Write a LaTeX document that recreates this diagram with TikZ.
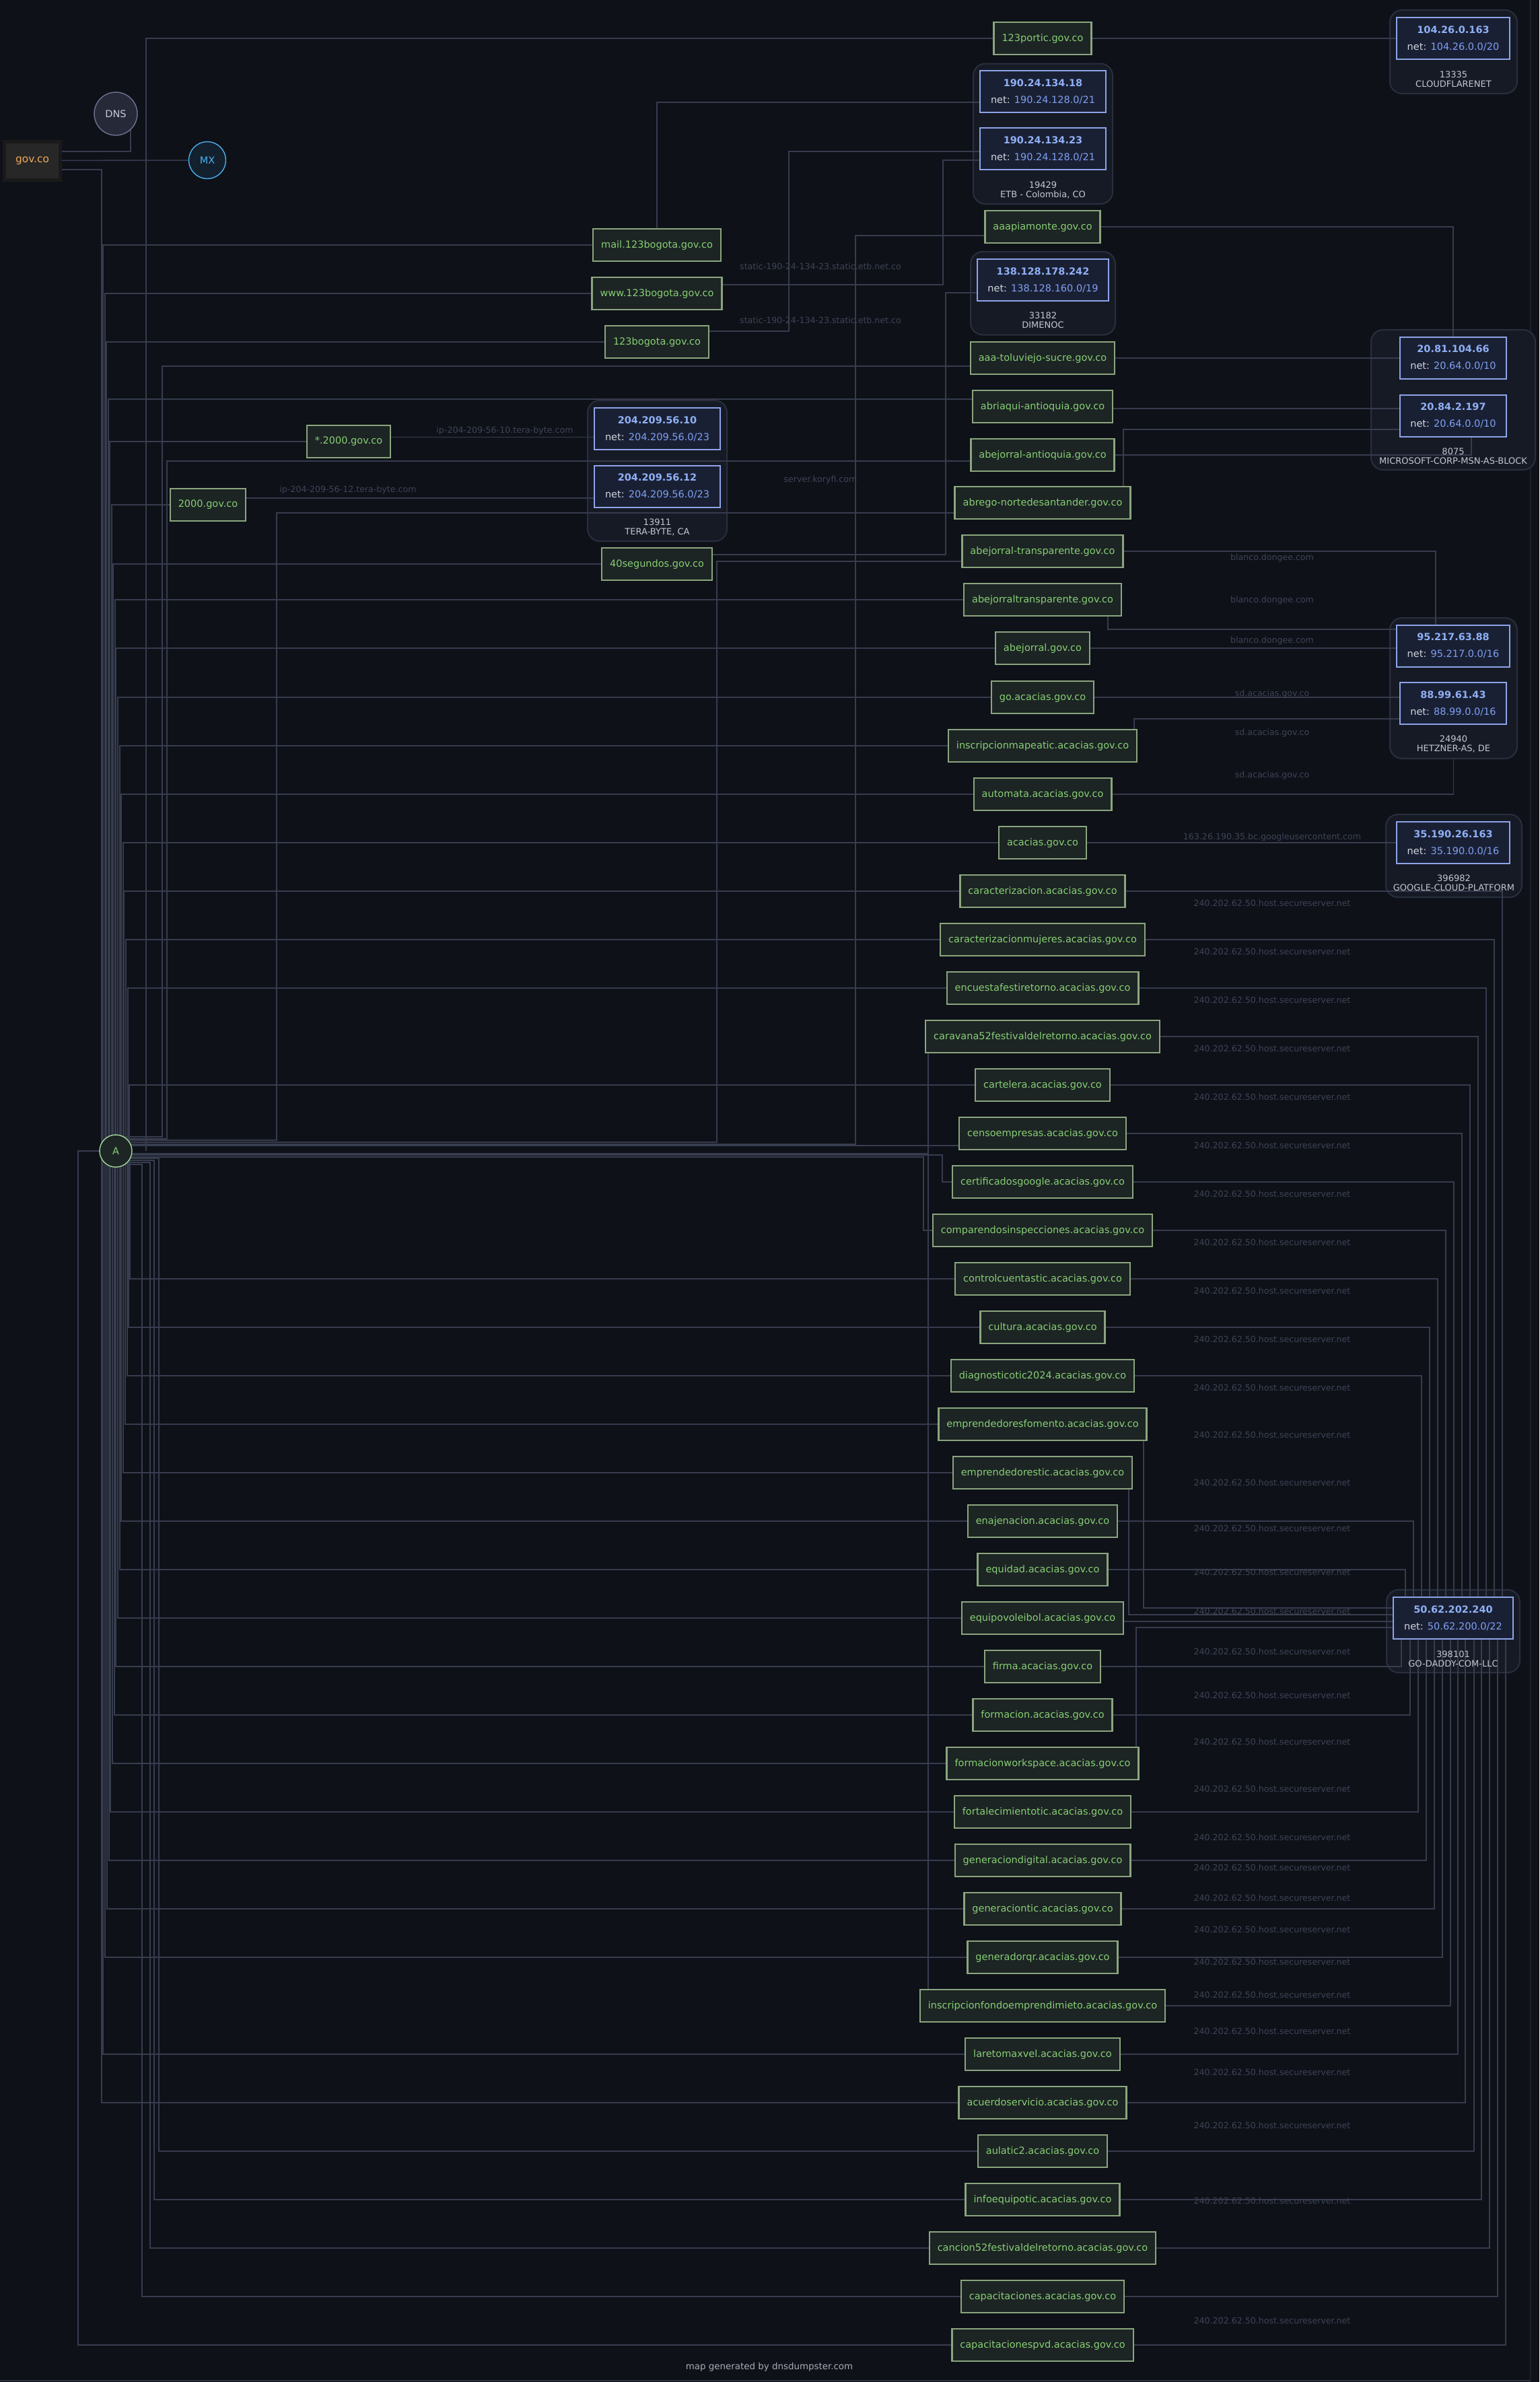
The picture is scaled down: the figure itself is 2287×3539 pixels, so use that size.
\documentclass[tikz,border=0pt]{standalone}
\usepackage{fontspec}
\setmainfont{DejaVu Sans}
\usetikzlibrary{calc}
\pgfdeclarelayer{back}
\pgfdeclarelayer{edges}
\pgfsetlayers{back,edges,main}
\definecolor{bgc}{HTML}{0E1118}
\definecolor{edgec}{HTML}{373C4E}
\definecolor{elcol}{HTML}{3E4456}
\definecolor{framec}{HTML}{2C3140}
\definecolor{framed}{HTML}{1C202B}
\definecolor{subfill}{HTML}{1D2424}
\definecolor{subdraw}{HTML}{8BA57E}
\definecolor{subtext}{HTML}{86CF74}
\definecolor{ipfill}{HTML}{1A2034}
\definecolor{ipdraw}{HTML}{8EA4E8}
\definecolor{ipblue}{HTML}{8FB0F5}
\definecolor{netgray}{HTML}{D0D4DC}
\definecolor{netblue}{HTML}{7F9FF0}
\definecolor{clfill}{HTML}{151A25}
\definecolor{cldraw}{HTML}{2A2F3E}
\definecolor{cltext}{HTML}{C4C8D0}
\definecolor{govf}{HTML}{272727}
\definecolor{govd}{HTML}{1A1A1A}
\definecolor{govt}{HTML}{F0A858}
\definecolor{dnsf}{HTML}{262938}
\definecolor{dnsd}{HTML}{6F7391}
\definecolor{dnst}{HTML}{C6CAD6}
\definecolor{mxf}{HTML}{13202E}
\definecolor{mxd}{HTML}{4AB0EC}
\definecolor{af}{HTML}{1D2525}
\definecolor{ad}{HTML}{A4D896}
\definecolor{capc}{HTML}{A8ACB8}
\newcommand\myfs{\fontsize{7.25}{8.7}\selectfont}
\newcommand\ipt[2]{{\bfseries\color{ipblue}#1}\\[3.6pt]net: {\color{netblue}#2}}
\begin{document}
\begin{tikzpicture}[x=0.5pt,y=-0.5pt,
  conn/.style={draw=edgec, line width=0.8pt},
  subd/.style={draw=subdraw, fill=subfill, line width=1.2pt, text=subtext, font=\myfs, minimum height=24pt, inner xsep=6pt, inner ysep=0pt},
  ipbox/.style={draw=ipdraw, fill=ipfill, line width=1pt, font=\myfs, align=center, minimum height=31pt, text=netgray, inner sep=0pt},
  clust/.style={draw=cldraw, fill=clfill, line width=1pt, rounded corners=9pt, inner sep=0pt},
  cllab/.style={text=cltext, font=\fontsize{6.5}{7}\selectfont, align=center, inner sep=0pt},
  elab/.style={text=elcol, font=\fontsize{6.3}{7}\selectfont, inner sep=0pt}]
\useasboundingbox (0,0) rectangle (2287,3539);
\begin{pgfonlayer}{back}
\fill[bgc] (0,0) rectangle (2287,3539);
\draw[framec, line width=0.8pt] (0,3537) -- (2274,3537);
\draw[framed, line width=0.6pt] (2274,3537) -- (2274,0);
\node[clust, minimum width=94.5pt, minimum height=62pt] (cf) at (2159.5,77) {};
\node[clust, minimum width=103.5pt, minimum height=104.25pt] (etb) at (1549.5,198.75) {};
\node[clust, minimum width=107.5pt, minimum height=61.75pt] (dim) at (1549.5,435.75) {};
\node[clust, minimum width=122pt, minimum height=104pt] (ms) at (2159,594) {};
\node[clust, minimum width=103.5pt, minimum height=104.5pt] (tera) at (976.5,699.5) {};
\node[clust, minimum width=94.5pt, minimum height=104.5pt] (hetz) at (2159.5,1022.5) {};
\node[clust, minimum width=101pt, minimum height=61.5pt] (goog) at (2160,1271.5) {};
\node[clust, minimum width=99pt, minimum height=61.5pt] (gd) at (2159,2423.5) {};
\end{pgfonlayer}
% cluster labels
\node[cllab] (cfl) at (2159.5,117.5) {13335\\CLOUDFLARENET};
\node[cllab] (etbl) at (1549.5,282) {19429\\ETB - Colombia, CO};
\node[cllab] (diml) at (1549.5,476) {33182\\DIMENOC};
\node[cllab] (msl) at (2159,677.5) {8075\\MICROSOFT-CORP-MSN-AS-BLOCK};
\node[cllab] (teral) at (976.5,783) {13911\\TERA-BYTE, CA};
\node[cllab] (hetzl) at (2159.5,1105.5) {24940\\HETZNER-AS, DE};
\node[cllab] (googl) at (2160,1311.5) {396982\\GOOGLE-CLOUD-PLATFORM};
\node[cllab] (gdl) at (2159,2464.5) {398101\\GO-DADDY-COM-LLC};
% root nodes
\node[draw=govd, fill=govf, line width=2.5pt, minimum width=41.5pt, minimum height=28.5pt, text=govt, font=\fontsize{7.7}{9}\selectfont] (gov) at (48,238.5) {gov.co};
\node[circle, draw=dnsd, fill=dnsf, line width=0.7pt, minimum size=32pt, inner sep=0pt, text=dnst, font=\myfs] (dns) at (172,169) {DNS};
\node[circle, draw=mxd, fill=mxf, line width=0.7pt, minimum size=27.5pt, inner sep=0pt, text=mxd, font=\myfs] (mx) at (308,238) {MX};
\node[circle, draw=ad, fill=af, line width=0.7pt, minimum size=24pt, inner sep=0pt, text=subtext, font=\myfs] (A) at (172,1710) {A};
% IP boxes
\node[ipbox, minimum width=84pt] (ip104) at (2159,57) {\ipt{104.26.0.163}{104.26.0.0/20}};
\node[ipbox, minimum width=93.5pt] (ip18) at (1549.5,136) {\ipt{190.24.134.18}{190.24.128.0/21}};
\node[ipbox, minimum width=93.5pt] (ip23) at (1549.5,221) {\ipt{190.24.134.23}{190.24.128.0/21}};
\node[ipbox, minimum width=97.5pt] (ip138) at (1549.5,416) {\ipt{138.128.178.242}{138.128.160.0/19}};
\node[ipbox, minimum width=79pt] (ip66) at (2159,531.5) {\ipt{20.81.104.66}{20.64.0.0/10}};
\node[ipbox, minimum width=79pt] (ip197) at (2159,617.5) {\ipt{20.84.2.197}{20.64.0.0/10}};
\node[ipbox, minimum width=93.5pt] (ip10) at (976.5,637) {\ipt{204.209.56.10}{204.209.56.0/23}};
\node[ipbox, minimum width=93.5pt] (ip12) at (976.5,722.5) {\ipt{204.209.56.12}{204.209.56.0/23}};
\node[ipbox, minimum width=84pt] (ip88) at (2159,959.5) {\ipt{95.217.63.88}{95.217.0.0/16}};
\node[ipbox, minimum width=79pt] (ip43) at (2159,1045) {\ipt{88.99.61.43}{88.99.0.0/16}};
\node[ipbox, minimum width=84pt] (ip35) at (2159,1252) {\ipt{35.190.26.163}{35.190.0.0/16}};
\node[ipbox, minimum width=89pt] (ip240) at (2159,2404) {\ipt{50.62.202.240}{50.62.200.0/22}};
% subdomain nodes
\node[subd] (p123portic) at (1549,57) {123portic.gov.co};
\node[subd] (aaapi) at (1549,337) {aaapiamonte.gov.co};
\node[subd] (mail) at (976,364) {mail.123bogota.gov.co};
\node[subd] (www) at (976,436) {www.123bogota.gov.co};
\node[subd] (bog) at (976,508) {123bogota.gov.co};
\node[subd] (star2000) at (518,656) {*.2000.gov.co};
\node[subd] (d2000) at (309,750) {2000.gov.co};
\node[subd] (seg40) at (976,838) {40segundos.gov.co};
\node[subd] (tolu) at (1549,532) {aaa-toluviejo-sucre.gov.co};
\node[subd] (abriaqui) at (1549,604) {abriaqui-antioquia.gov.co};
\node[subd] (abejant) at (1549,676) {abejorral-antioquia.gov.co};
\node[subd] (abrego) at (1549,747) {abrego-nortedesantander.gov.co};
\node[subd] (abejtr) at (1549,819) {abejorral-transparente.gov.co};
\node[subd] (abejtr2) at (1549,891) {abejorraltransparente.gov.co};
\node[subd] (abej) at (1549,963) {abejorral.gov.co};
\node[subd] (goac) at (1549,1036) {go.acacias.gov.co};
\node[subd] (insmap) at (1549,1108) {inscripcionmapeatic.acacias.gov.co};
\node[subd] (automata) at (1549,1180) {automata.acacias.gov.co};
\node[subd] (acacias) at (1549,1252) {acacias.gov.co};
\node[subd] (carac) at (1549,1324) {caracterizacion.acacias.gov.co};
\node[subd] (caracm) at (1549,1396) {caracterizacionmujeres.acacias.gov.co};
\node[subd] (encuesta) at (1549,1468) {encuestafestiretorno.acacias.gov.co};
\node[subd] (caravana) at (1549,1540) {caravana52festivaldelretorno.acacias.gov.co};
\node[subd] (cartelera) at (1549,1612) {cartelera.acacias.gov.co};
\node[subd] (censo) at (1549,1684) {censoempresas.acacias.gov.co};
\node[subd] (certif) at (1549,1756) {certificadosgoogle.acacias.gov.co};
\node[subd] (compar) at (1549,1828) {comparendosinspecciones.acacias.gov.co};
\node[subd] (control) at (1549,1900) {controlcuentastic.acacias.gov.co};
\node[subd] (cultura) at (1549,1972) {cultura.acacias.gov.co};
\node[subd] (diag) at (1549,2044) {diagnosticotic2024.acacias.gov.co};
\node[subd] (empfom) at (1549,2116) {emprendedoresfomento.acacias.gov.co};
\node[subd] (emptic) at (1549,2188) {emprendedorestic.acacias.gov.co};
\node[subd] (enaj) at (1549,2260) {enajenacion.acacias.gov.co};
\node[subd] (equidad) at (1549,2332) {equidad.acacias.gov.co};
\node[subd] (equipo) at (1549,2404) {equipovoleibol.acacias.gov.co};
\node[subd] (firma) at (1549,2476) {firma.acacias.gov.co};
\node[subd] (formacion) at (1549,2548) {formacion.acacias.gov.co};
\node[subd] (formws) at (1549,2620) {formacionworkspace.acacias.gov.co};
\node[subd] (fortal) at (1549,2692) {fortalecimientotic.acacias.gov.co};
\node[subd] (gendig) at (1549,2764) {generaciondigital.acacias.gov.co};
\node[subd] (gentic) at (1549,2836) {generaciontic.acacias.gov.co};
\node[subd] (genqr) at (1549,2908) {generadorqr.acacias.gov.co};
\node[subd] (insfondo) at (1549,2980) {inscripcionfondoemprendimieto.acacias.gov.co};
\node[subd] (laretoma) at (1549,3052) {laretomaxvel.acacias.gov.co};
\node[subd] (acuerdo) at (1549,3124) {acuerdoservicio.acacias.gov.co};
\node[subd] (aulatic) at (1549,3196) {aulatic2.acacias.gov.co};
\node[subd] (infoeq) at (1549,3268) {infoequipotic.acacias.gov.co};
\node[subd] (cancion) at (1549,3340) {cancion52festivaldelretorno.acacias.gov.co};
\node[subd] (capac) at (1549,3412) {capacitaciones.acacias.gov.co};
\node[subd] (capacpvd) at (1549,3484) {capacitacionespvd.acacias.gov.co};
% edge labels
\node[elab] (l1) at (1219,396) {static-190-24-134-23.static.etb.net.co};
\node[elab] (l2) at (1219,476) {static-190-24-134-23.static.etb.net.co};
\node[elab] (l3) at (750,640) {ip-204-209-56-10.tera-byte.com};
\node[elab] (l4) at (517,728) {ip-204-209-56-12.tera-byte.com};
\node[elab] (l5) at (1219,713) {server.koryfi.com};
\foreach \yy [count=\i] in {829,892,952} {\node[elab] (lb\i) at (1890,\yy) {blanco.dongee.com};}
\foreach \yy [count=\i] in {1031,1089,1152} {\node[elab] (ls\i) at (1890,\yy) {sd.acacias.gov.co};}
\node[elab] (lg) at (1890,1244) {163.26.190.35.bc.googleusercontent.com};
\foreach \yy [count=\i] in {1342,1414,1486,1558,1630,1702,1774,1846,1918,1990,2062,2132,2203,2271,2336,2394,2454,2519,2588,2658,2730,2775,2820,2867,2915,2964,3018,3079,3158,3270,3448} {\node[elab] (lgd\i) at (1890,\yy) {240.202.62.50.host.secureserver.net};}
\node[text=capc, font=\fontsize{6.7}{8}\selectfont] (cap) at (1143,3517) {map generated by dnsdumpster.com};
% connectors
\begin{pgfonlayer}{edges}
\draw[conn] ($(gov.east)+(0,-13.5)$) -| ($(dns.center)+(22,0)$);
\draw[conn] (gov) -- (mx);
\draw[conn] ($(gov.east)+(0,13.5)$) -| ($(A.center)+(-21,0)$);
% A -> subdomains, near bundle
\draw[conn] ($(A.center)+(45,0)$) |- (p123portic);
\draw[conn] ($(A.center)+(-19,0)$) |- (mail);
\draw[conn] ($(A.center)+(-16,0)$) |- (www);
\draw[conn] ($(A.center)+(-14,0)$) |- (bog);
\draw[conn] ($(A.center)+(-11,0)$) |- ($(abriaqui.west)+(0,-11)$);
\draw[conn] ($(A.center)+(-9,0)$) |- (star2000);
\draw[conn] ($(A.center)+(-6,0)$) |- (d2000);
\draw[conn] ($(A.center)+(-4,0)$) |- (seg40);
\draw[conn] ($(A.center)+(-1,0)$) |- (abejtr2);
\draw[conn] ($(A.center)+(0,0)$) |- (abej);
\draw[conn] ($(A.center)+(3,0)$) |- (goac);
\draw[conn] ($(A.center)+(6,0)$) |- (insmap);
\draw[conn] ($(A.center)+(8,0)$) |- (automata);
\draw[conn] ($(A.center)+(11,0)$) |- (acacias);
\draw[conn] ($(A.center)+(12,0)$) |- (carac);
\draw[conn] ($(A.center)+(15,0)$) |- (caracm);
\draw[conn] ($(A.center)+(18,0)$) |- (encuesta);
\draw[conn] ($(A.center)+(20,0)$) |- (cartelera);
\draw[conn] ($(A.center)+(21,0)$) |- (control);
\draw[conn] ($(A.center)+(19,0)$) |- (cultura);
\draw[conn] ($(A.center)+(17,0)$) |- (diag);
\draw[conn] ($(A.center)+(14,0)$) |- (empfom);
\draw[conn] ($(A.center)+(11,0)$) |- (emptic);
\draw[conn] ($(A.center)+(8,0)$) |- (enaj);
\draw[conn] ($(A.center)+(6,0)$) |- (equidad);
\draw[conn] ($(A.center)+(3,0)$) |- (equipo);
\draw[conn] ($(A.center)+(0,0)$) |- (firma);
\draw[conn] ($(A.center)+(-2,0)$) |- (formacion);
\draw[conn] ($(A.center)+(-5,0)$) |- (formws);
\draw[conn] ($(A.center)+(-8,0)$) |- (fortal);
\draw[conn] ($(A.center)+(-10,0)$) |- (gendig);
\draw[conn] ($(A.center)+(-13,0)$) |- (gentic);
\draw[conn] ($(A.center)+(-16,0)$) |- (genqr);
\draw[conn] ($(A.center)+(-19,0)$) |- (laretoma);
\draw[conn] ($(A.center)+(-21,0)$) |- (acuerdo);
% A -> subdomains, far routes
\draw[conn] ($(A.center)+(0,-21)$) -- (241,1689) |- ($(tolu.west)+(0,12)$);
\draw[conn] ($(A.center)+(0,-18)$) -- (248,1692) |- ($(abejant.west)+(0,9)$);
\draw[conn] ($(A.center)+(0,-16)$) -- (411,1694) |- ($(abrego.west)+(0,15)$);
\draw[conn] ($(A.center)+(0,-13)$) -- (1065,1697) |- ($(abejtr.west)+(0,15)$);
\draw[conn] ($(A.center)+(0,-10)$) -- (1271,1700) |- ($(aaapi.west)+(0,13)$);
\draw[conn] ($(A.center)+(0,-8)$) -- (censo.west |- 0,1702);
\draw[conn] ($(A.center)+(0,4)$) -- (1379,1714) -- (caravana.south -| 1379,0);
\draw[conn] ($(A.center)+(0,4)$) -- (1379,1714) -- (insfondo.north -| 1379,0);
\draw[conn] ($(A.center)+(0,6)$) -- (1400,1716) |- (certif);
\draw[conn] ($(A.center)+(0,9)$) -- (1372,1719) |- (compar);
\draw[conn] ($(A.center)+(0,11)$) -- (236,1721) |- (aulatic);
\draw[conn] ($(A.center)+(0,14)$) -- (229,1724) |- (infoeq);
\draw[conn] ($(A.center)+(0,17)$) -- (223,1727) |- (cancion);
\draw[conn] ($(A.center)+(0,20)$) -- (211,1730) |- (capac);
\draw[conn] (A.center) -- (116,1710) |- (capacpvd);
% subdomain -> IP
\draw[conn] (p123portic) -- (ip104);
\draw[conn] (mail.north) |- ($(ip18.west)+(0,16)$);
\draw[conn] ($(www.east)+(0,-13)$) -- (1401,423) |- ($(ip23.west)+(0,17)$);
\draw[conn] ($(bog.east)+(0,-16)$) -- (1172,492) |- ($(ip23.west)+(0,4)$);
\draw[conn] ($(seg40.east)+(0,-14)$) -- (1405,824) |- ($(ip138.west)+(0,19)$);
\draw[conn] (aaapi) -| (ip66);
\draw[conn] (tolu.east) -- (tolu.east -| ip66.west);
\draw[conn] ($(abriaqui.east)+(0,3)$) -- ($(ip197.west)+(0,-10.5)$);
\draw[conn] (abejant.east) -| ($(ip197.south)+(27,0)$);
\draw[conn] ($(abrego.north)+(120,0)$) |- ($(ip197.west)+(0,20.5)$);
\draw[conn] ($(star2000.east)+(0,-6.5)$) -- ($(ip10.west)+(0,12.5)$);
\draw[conn] ($(d2000.east)+(0,-10)$) -- ($(ip12.west)+(0,17.5)$);
\draw[conn] (abejtr.east) -| ($(ip88.north)+(-26,0)$);
\draw[conn] ($(abejtr2.south)+(97,0)$) |- ($(ip88.west)+(0,-24.5)$);
\draw[conn] (abej.east) -- (abej.east -| ip88.west);
\draw[conn] (goac.east) -- (goac.east -| ip43.west);
\draw[conn] ($(insmap.north)+(136,0)$) |- ($(ip43.west)+(0,23)$);
\draw[conn] (automata.east) -| (hetz.south);
\draw[conn] (acacias) -- (ip35);
% -> 50.62.202.240 from above
\draw[conn] (carac.east) -| ($(ip240.north)+(73,0)$);
\draw[conn] (caracm.east) -| ($(ip240.north)+(61,0)$);
\draw[conn] (encuesta.east) -| ($(ip240.north)+(49,0)$);
\draw[conn] (caravana.east) -| ($(ip240.north)+(37,0)$);
\draw[conn] (cartelera.east) -| ($(ip240.north)+(25,0)$);
\draw[conn] (censo.east) -| ($(ip240.north)+(13,0)$);
\draw[conn] (certif.east) -| ($(ip240.north)+(1,0)$);
\draw[conn] (compar.east) -| ($(ip240.north)+(-11,0)$);
\draw[conn] (control.east) -| ($(ip240.north)+(-23,0)$);
\draw[conn] (cultura.east) -| ($(ip240.north)+(-35,0)$);
\draw[conn] (diag.east) -| ($(ip240.north)+(-47,0)$);
\draw[conn] (enaj.east) -| ($(ip240.north)+(-59,0)$);
\draw[conn] (equidad.east) -| ($(ip240.north)+(-71,0)$);
% from the left
\draw[conn] ($(empfom.south)+(150,0)$) |- ($(ip240.west)+(0,-15)$);
\draw[conn] ($(emptic.south)+(128,0)$) |- ($(ip240.west)+(0,-5)$);
\draw[conn] ($(equipo.east)+(0,5)$) -- ($(ip240.west)+(0,5)$);
\draw[conn] ($(formws.north)+(139,0)$) |- ($(ip240.west)+(0,14)$);
% from below
\draw[conn] (firma.east) -| ($(ip240.south)+(-77,0)$);
\draw[conn] (formacion.east) -| ($(ip240.south)+(-64,0)$);
\draw[conn] (fortal.east) -| ($(ip240.south)+(-52,0)$);
\draw[conn] (gendig.east) -| ($(ip240.south)+(-40,0)$);
\draw[conn] (gentic.east) -| ($(ip240.south)+(-28,0)$);
\draw[conn] (genqr.east) -| ($(ip240.south)+(-16,0)$);
\draw[conn] (insfondo.east) -| ($(ip240.south)+(-4,0)$);
\draw[conn] (laretoma.east) -| ($(ip240.south)+(7,0)$);
\draw[conn] (acuerdo.east) -| ($(ip240.south)+(18,0)$);
\draw[conn] (aulatic.east) -| ($(ip240.south)+(31,0)$);
\draw[conn] (infoeq.east) -| ($(ip240.south)+(42,0)$);
\draw[conn] (cancion.east) -| ($(ip240.south)+(54,0)$);
\draw[conn] (capac.east) -| ($(ip240.south)+(66,0)$);
\draw[conn] (capacpvd.east) -| ($(ip240.south)+(78,0)$);
\end{pgfonlayer}
\end{tikzpicture}
\end{document}
